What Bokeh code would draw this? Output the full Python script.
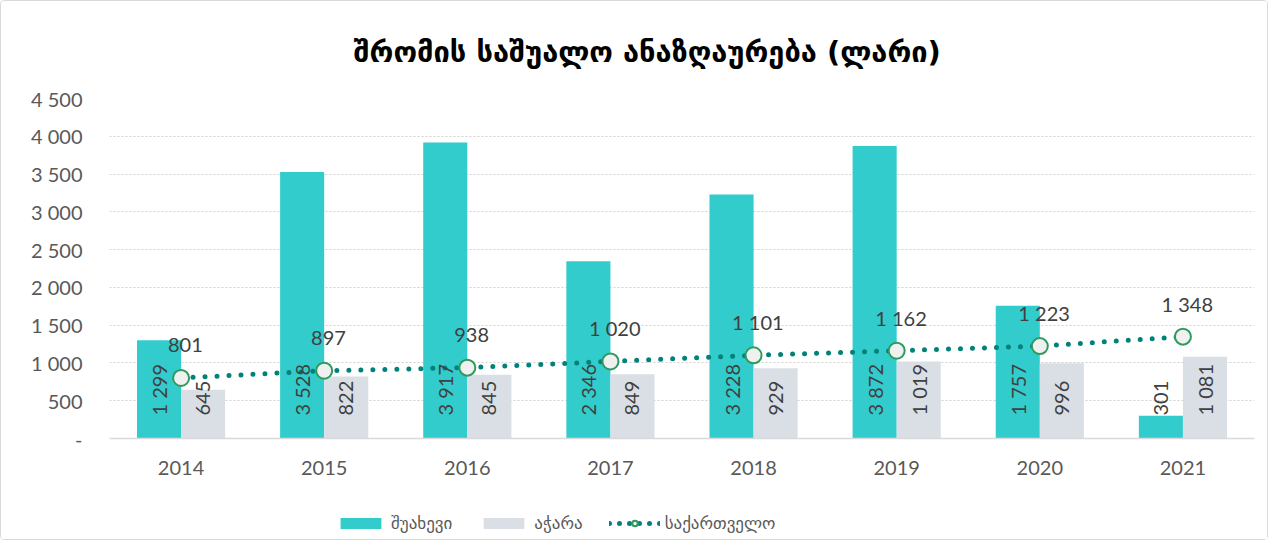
from bokeh.plotting import figure
from bokeh.layouts import column
from bokeh.models import FactorRange, Legend, LegendItem, ColumnDataSource, FixedTicker, Range1d
from bokeh.transform import dodge
from bokeh.core.properties import value
from bokeh.embed import file_html
from bokeh.resources import INLINE
import math

years = ["2014", "2015", "2016", "2017", "2018", "2019", "2020", "2021"]
shuakhevi = [1299, 3528, 3917, 2346, 3228, 3872, 1757, 301]
ajara = [645, 822, 845, 849, 929, 1019, 996, 1081]
georgia = [801, 897, 938, 1020, 1101, 1162, 1223, 1348]
y_ticks = [0, 500, 1000, 1500, 2000, 2500, 3000, 3500, 4000, 4500]
series_names = ["შუახევი", "აჭარა", "საქართველო"]

def fmt(v):
    return f"{v:,}".replace(",", " ")

TEAL = "#33CCCC"
GRAY = "#DADFE6"
LINE = "#00827A"
MARK = "#2E9B5E"
TXT = "#404040"
NUMFONT = "Lato"
GEOFONT = "DejaVu Sans"

W = 1266
H1, H2 = 488, 50
TOP, BOTTOM, LEFT, RIGHT = 97, 51, 108, 13
frame_h = H1 - TOP - BOTTOM
px_per_unit = frame_h / 4500.0

src = ColumnDataSource(dict(
    year=years, sh=shuakhevi, aj=ajara, ge=georgia,
    sh_lab=[fmt(v) for v in shuakhevi],
    aj_lab=[fmt(v) for v in ajara],
    ge_lab=[fmt(v) for v in georgia],
    base=[23 / px_per_unit] * len(years),
    ge_y=[v + 33 / px_per_unit for v in georgia],
))

p = figure(x_range=FactorRange(*years, range_padding=0), y_range=(0, 4500),
           width=W, height=H1, output_backend="svg", toolbar_location=None,
           min_border_left=LEFT, min_border_right=RIGHT, min_border_top=TOP,
           min_border_bottom=BOTTOM,
           title="შრომის საშუალო ანაზღაურება (ლარი)")

p.title.align = "left"
p.title.text_font = GEOFONT
p.title.text_font_size = "29px"
p.title.text_font_style = "bold"
p.title.text_color = "#000000"
p.title.standoff = 59
p.title.offset = 244

p.outline_line_color = None
p.xgrid.grid_line_color = None
p.ygrid.grid_line_color = "#D0D0D0"
p.ygrid.grid_line_dash = "2 2"
p.ygrid.grid_line_width = 1

r1 = p.vbar(x=dodge("year", -0.154, range=p.x_range), top="sh", width=0.308, source=src,
            fill_color=TEAL, line_color=None)
r2 = p.vbar(x=dodge("year", 0.154, range=p.x_range), top="aj", width=0.308, source=src,
            fill_color=GRAY, line_color=None)

r3 = p.line(x="year", y="ge", source=src, line_color=LINE, line_width=5,
            line_dash="0 12", line_cap="round")
r4 = p.scatter(x="year", y="ge", source=src, size=16, fill_color="#F0F0F0",
               line_color=MARK, line_width=2)

p.text(x=dodge("year", -0.154, range=p.x_range), y="base", text="sh_lab", source=src,
       angle=math.pi / 2, text_align="left", text_baseline="middle",
       text_font=value(NUMFONT), text_font_size="20px", text_color=TXT)
p.text(x=dodge("year", 0.154, range=p.x_range), y="base", text="aj_lab", source=src,
       angle=math.pi / 2, text_align="left", text_baseline="middle",
       text_font=value(NUMFONT), text_font_size="20px", text_color=TXT)
p.text(x=dodge("year", 0.03, range=p.x_range), y="ge_y", text="ge_lab", source=src,
       text_align="center", text_baseline="middle",
       text_font=value(NUMFONT), text_font_size="20px", text_color=TXT)

p.yaxis.ticker = FixedTicker(ticks=y_ticks)
p.yaxis.major_label_overrides = {t: ("-" if t == 0 else fmt(t)) for t in y_ticks}
p.yaxis.axis_line_color = None
p.yaxis.major_tick_line_color = None
p.yaxis.minor_tick_line_color = None
p.yaxis.major_label_standoff = 21
p.yaxis.major_label_text_font = NUMFONT
p.yaxis.major_label_text_font_size = "20px"
p.yaxis.major_label_text_color = "#595959"

p.xaxis.axis_line_color = "#D9D9D9"
p.xaxis.axis_line_width = 1.5
p.xaxis.major_tick_line_color = None
p.xaxis.minor_tick_line_color = None
p.xaxis.major_label_standoff = 16
p.xaxis.major_label_text_font = NUMFONT
p.xaxis.major_label_text_font_size = "20px"
p.xaxis.major_label_text_color = "#595959"

# legend strip (separate figure so the legend is not clipped)
q = figure(width=W, height=H2, output_backend="svg", toolbar_location=None,
           x_range=Range1d(0, 1), y_range=Range1d(0, 1),
           min_border=0, min_border_left=0, min_border_right=0,
           min_border_top=0, min_border_bottom=0)
q.axis.visible = False
q.grid.visible = False
q.outline_line_color = None
# proxy renderers placed far outside the visible range, only used for legend swatches
proxy_bar = ColumnDataSource(dict(x=[50], b=[50], t=[51]))
proxy_line = ColumnDataSource(dict(x=[50, 51], y=[50, 50]))
l1 = q.vbar(x="x", bottom="b", top="t", width=0.1, source=proxy_bar,
            fill_color=TEAL, line_color=None)
l2 = q.vbar(x="x", bottom="b", top="t", width=0.1, source=proxy_bar,
            fill_color=GRAY, line_color=None)
l3 = q.line(x="x", y="y", source=proxy_line, line_color=LINE, line_width=5,
            line_dash="0 10", line_cap="round")
l4 = q.scatter(x="x", y="y", source=proxy_line, size=16, fill_color="#F0F0F0",
               line_color=MARK, line_width=2)

legend = Legend(items=[
    LegendItem(label=series_names[0], renderers=[l1]),
    LegendItem(label=series_names[1], renderers=[l2]),
    LegendItem(label=series_names[2], renderers=[l3, l4]),
], orientation="horizontal", location=(226, 6))
legend.label_text_font = GEOFONT
legend.label_text_font_size = "17px"
legend.label_text_color = "#595959"
legend.glyph_width = 51
legend.glyph_height = 14
legend.spacing = 26
legend.border_line_color = None
legend.background_fill_alpha = 0
legend.margin = 0
legend.padding = 5
q.add_layout(legend, "center")

layout = column(p, q, spacing=0)
layout.styles = {"border": "1.5px solid #D9D9D9", "border-radius": "4px"}

open("out.html", "w").write(file_html(layout, INLINE))
